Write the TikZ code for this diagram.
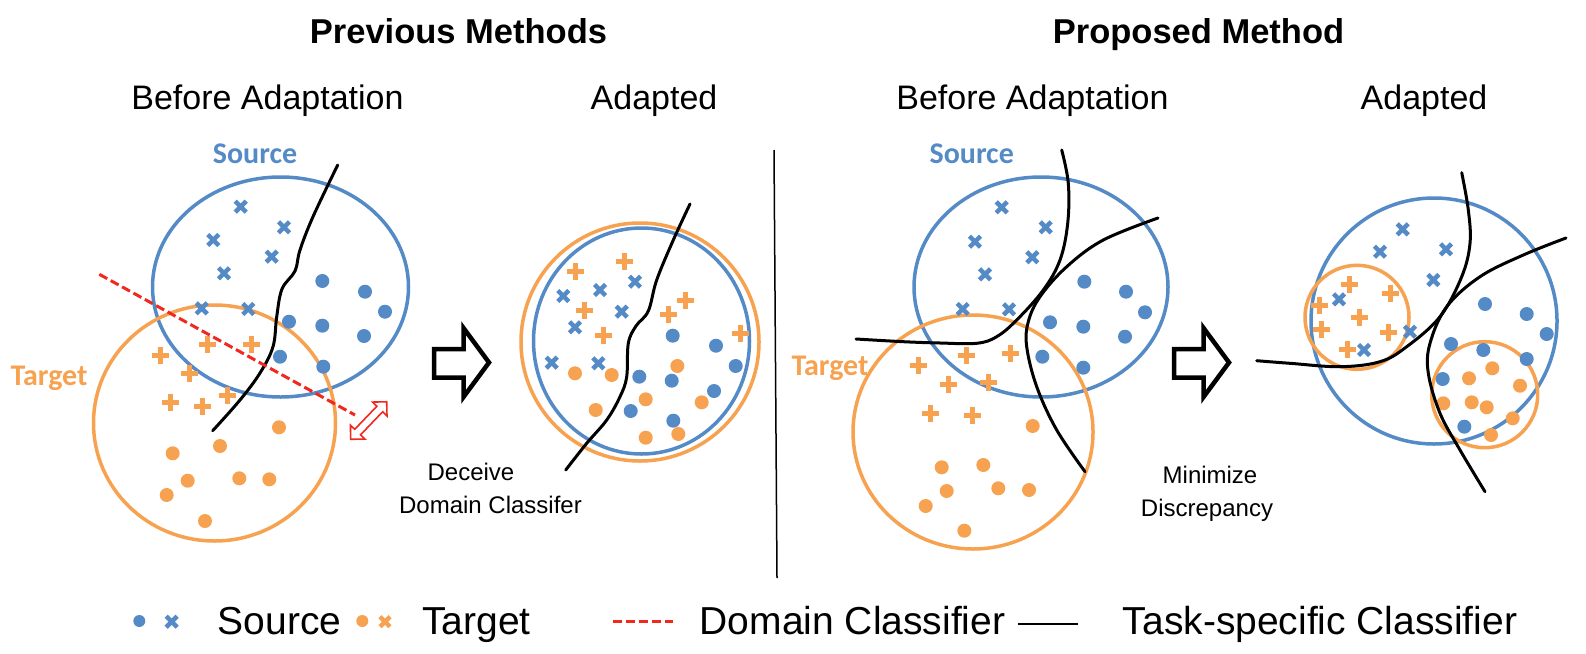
\documentclass[tikz,border=0pt]{standalone}
\usepackage{fontspec}
\setmainfont{Liberation Sans}
\newfontfamily\calib{Carlito}
\definecolor{cB}{RGB}{84,138,198}
\definecolor{cO}{RGB}{246,162,80}
\definecolor{cR}{RGB}{240,40,30}
\tikzset{
  ttl/.style={font=\bfseries\fontsize{34.5}{40}\selectfont, anchor=base, inner sep=0pt},
  sub/.style={font=\fontsize{34}{40}\selectfont, anchor=base, inner sep=0pt},
  dlab/.style={font=\calib\bfseries\fontsize{30}{36}\selectfont, anchor=base, inner sep=0pt},
  note/.style={font=\fontsize{24}{28}\selectfont, anchor=base, inner sep=0pt},
  leg/.style={font=\fontsize{39}{46}\selectfont, anchor=base, inner sep=0pt},
  domS/.style={draw=cB, line width=3.5pt},
  domT/.style={draw=cO, line width=3.5pt},
  bound/.style={draw=black, line width=3pt, line cap=round},
  dcls/.style={draw=cR, line width=3pt, dash pattern=on 9pt off 4pt},
  blockarrow/.style={draw=black, fill=white, line width=4.5pt, line join=miter},
  bx/.pic={\draw[cB, line width=4.5pt] (-5.5,-5.5) -- (5.5,5.5) (-5.5,5.5) -- (5.5,-5.5);},
  ox/.pic={\draw[cO, line width=4.5pt] (-5,-5) -- (5,5) (-5,5) -- (5,-5);},
  op/.pic={\draw[cO, line width=5pt] (-8.5,0) -- (8.5,0) (0,-8.5) -- (0,8.5);},
  bd/.pic={\fill[cB] (0,0) circle[radius=7pt];},
  od/.pic={\fill[cO] (0,0) circle[radius=7pt];},
  lbd/.pic={\fill[cB] (0,0) circle[radius=6pt];},
  lod/.pic={\fill[cO] (0,0) circle[radius=6pt];},
}
\begin{document}
\begin{tikzpicture}[x=1pt,y=-1pt]
\useasboundingbox (0,0) rectangle (1586,653);

% titles
\node[ttl] (t1) at (458.5,43) {Previous Methods};
\node[ttl] (t2) at (1198.5,43) {Proposed Method};
\node[sub] (s1) at (267.5,109) {Before Adaptation};
\node[sub] (s2) at (654,109) {Adapted};
\node[sub] (s3) at (1032.5,109) {Before Adaptation};
\node[sub] (s4) at (1424,109) {Adapted};

% divider
\draw[line width=1.5pt] (774,150) -- (777,578);

% ---------- Previous: before adaptation ----------
\draw[domS] (280.5,287) ellipse [x radius=128pt, y radius=110pt];
\draw[domT] (214.5,423) ellipse [x radius=121pt, y radius=118pt];
\node[dlab, text=cB] (srcL) at (255,163.3) {Source};
\node[dlab, text=cO] (tgtL) at (49,385) {Target};
\foreach \p in {(240.7,206.7),(284,227.3),(213.3,240),(271.7,256.7),(224,273.3),(201.7,308.3),(248.3,309)} \pic at \p {bx};
\foreach \p in {(322.3,281),(365,291.7),(385,311.7),(289,321.7),(322.3,325.7),(364,336),(280,356.7),(323.3,366.7)} \pic at \p {bd};
\foreach \p in {(207.7,344),(251,344),(160,355),(189,373.3),(227.3,395),(170.7,402.7),(202.3,406.7)} \pic at \p {op};
\foreach \p in {(279,427.3),(220,446),(172.7,453.3),(187.7,480.7),(239.3,478.3),(269.3,479.3),(166.7,495),(205,521)} \pic at \p {od};
\draw[bound] plot[smooth, tension=0.6] coordinates {(337.7,165) (313,216.7) (300,250) (295,271) (282,289) (276.7,316.7) (273,346.7) (260,373) (240,400) (212.7,430.7)};
\draw[dcls] (99.3,274.3) -- (355,415);
\begin{scope}[shift={(350.7,439.3)}, rotate=46.2]
  \draw[cR, line width=1.6pt, fill=white, line join=miter] (0,0) -- (10,-10) -- (10,-4) -- (42,-4) -- (42,-10) -- (52,0) -- (42,10) -- (42,4) -- (10,4) -- (10,10) -- cycle;
\end{scope}

% arrow 1
\draw[blockarrow] (434,349) -- (463.5,349) -- (463.5,328) -- (489,362.5) -- (463.5,397) -- (463.5,377.5) -- (434,377.5) -- cycle;
\node[note] (dec1) at (471,480) {Deceive};
\node[note] (dec2) at (490.5,513) {Domain Classifer};

% ---------- Previous: adapted ----------
\draw[domT] (640,342) circle[radius=119pt];
\draw[domS] (641.5,341) ellipse [x radius=108pt, y radius=113pt];
\foreach \p in {(563.3,296),(600,290),(635,281.7),(621.7,311.7),(575,327.3),(551.7,362.7),(598.3,363.3)} \pic at \p {bx};
\foreach \p in {(575,271.7),(624,261.7),(584,310),(603.3,335.7),(668.3,314),(685.7,300),(740,333.3)} \pic at \p {op};
\foreach \p in {(672.7,335.7),(716,345.7),(735.7,366),(639.3,376.7),(671.7,380.7),(714,391),(630.7,411),(673.3,420.7)} \pic at \p {bd};
\foreach \p in {(575,373.3),(611.7,375),(677.3,366),(645.7,399.3),(701.7,402.3),(595.7,410),(645.7,437.7),(678.3,434)} \pic at \p {od};
\draw[bound] plot[smooth, tension=0.6] coordinates {(690,204) (673.3,240) (656.7,280) (648.3,311) (636,326) (628.3,343.3) (626.7,376.7) (620,396.7) (606.7,420) (586.7,443.3) (565.7,470)};

% ---------- Proposed: before adaptation ----------
\draw[domS] (1041,287) ellipse [x radius=127pt, y radius=110pt];
\draw[domT] (973,432) ellipse [x radius=120pt, y radius=117pt];
\node[dlab, text=cB] (srcR) at (971.7,163.3) {Source};
\node[dlab, text=cO] (tgtR) at (830,375) {Target};
\foreach \p in {(1001.7,207.3),(1045.7,227.3),(975,241.7),(1032.3,257.3),(985,274.3),(962.7,309),(1009,309.3)} \pic at \p {bx};
\foreach \p in {(1084.3,281.7),(1126,291.7),(1145,312.3),(1050,322.3),(1083.3,326.7),(1125,336.7),(1042.3,356.7),(1083.3,367.7)} \pic at \p {bd};
\foreach \p in {(966.7,355),(1010,353.3),(918.3,365.7),(948.3,384.3),(988.3,382.3),(930,413.3),(972.3,415)} \pic at \p {op};
\foreach \p in {(1032.7,426),(941.7,467.3),(983.3,465),(946.7,491),(998.3,488.3),(1029,490),(925.7,506),(964.3,530.7)} \pic at \p {od};
\draw[bound] plot[smooth, tension=0.6] coordinates {(1061.7,150) (1068.3,183.3) (1067.7,223.3) (1060,260) (1043.3,290) (1016.7,320) (996.7,336.7) (976.7,343.3) (940,343) (903.3,341.7) (856,339)};
\draw[bound] plot[smooth, tension=0.6] coordinates {(1158,218) (1103.3,240) (1066.7,266.7) (1040,296.7) (1028.3,321.7) (1026.7,346.7) (1036.7,386.7) (1056.7,430) (1085,471.7)};

% arrow 2
\draw[blockarrow] (1174,349) -- (1203.5,349) -- (1203.5,328) -- (1229,362.5) -- (1203.5,397) -- (1203.5,377.5) -- (1174,377.5) -- cycle;
\node[note] (min1) at (1210,483) {Minimize};
\node[note] (min2) at (1207,516) {Discrepancy};

% ---------- Proposed: adapted ----------
\draw[domS] (1434,321) circle[radius=123pt];
\draw[domT] (1357,317.3) circle[radius=52pt];
\draw[domT] (1484.7,394.7) circle[radius=53pt];
\foreach \p in {(1402.7,229.3),(1380,251.7),(1446,249.3),(1433.3,280),(1339,299.3),(1410,331.7),(1364,350)} \pic at \p {bx};
\foreach \p in {(1349,284),(1390.7,293.3),(1319,305),(1359,317.7),(1321,329),(1388.3,332.7),(1347.7,349.3)} \pic at \p {op};
\foreach \p in {(1485,304),(1526.7,314),(1546.7,334),(1451,344),(1483.3,350),(1526.7,359),(1442.7,379),(1464.3,426.7)} \pic at \p {bd};
\foreach \p in {(1469,378.3),(1492.3,368.3),(1520,385.7),(1443.3,403.3),(1471.7,402.3),(1486.7,407.3),(1512.7,418.3),(1491,435)} \pic at \p {od};
\draw[bound] plot[smooth, tension=0.6] coordinates {(1461.7,172.7) (1468.3,210) (1470,243.3) (1461.7,276.7) (1440,316.7) (1406.7,346.7) (1380,361.7) (1340,366.7) (1290,363.3) (1256.7,360.7)};
\draw[bound] plot[smooth, tension=0.6] coordinates {(1566,238) (1523.3,255) (1480,276.7) (1446.7,306.7) (1430,343.3) (1428.3,373.3) (1440,413.3) (1460,450) (1485,491.7)};

% ---------- legend ----------
\pic at (139.3,621) {lbd};
\pic at (171.7,621.7) {bx};
\node[leg] (lsrc) at (279.7,634) {Source};
\pic at (362.3,621) {lod};
\pic at (385,621.7) {ox};
\node[leg] (ltgt) at (476.5,634) {Target};
\coordinate (rd1) at (613.3,621.7);
\coordinate (rd2) at (673.3,621.7);
\draw[dcls] (rd1) -- (rd2);
\node[leg] (ldom) at (852.5,634) {Domain Classifier};
\coordinate (bl1) at (1018.3,624);
\coordinate (bl2) at (1078.3,624);
\draw[line width=2.6pt] (bl1) -- (bl2);
\node[leg] (ltask) at (1320,634) {Task-specific Classifier};
\end{tikzpicture}
\end{document}
